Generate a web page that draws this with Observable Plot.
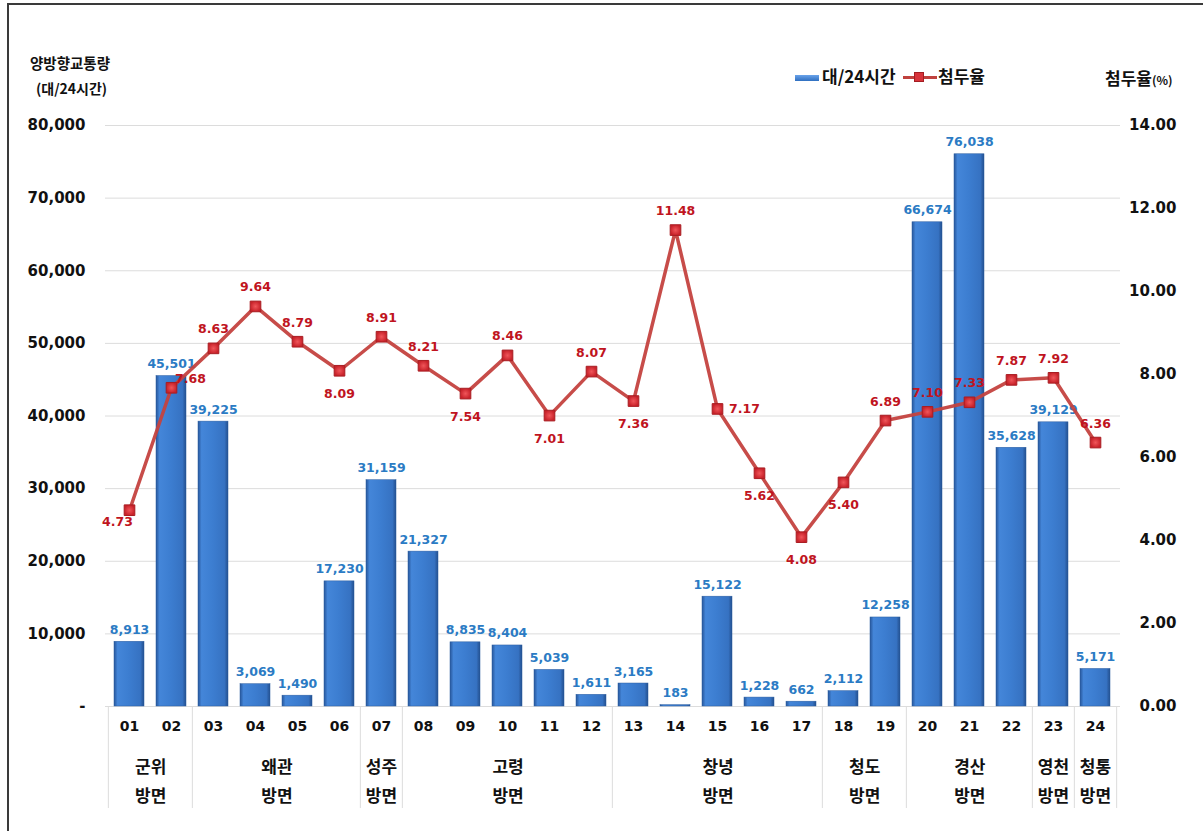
<!DOCTYPE html>
<html><head><meta charset="utf-8">
<script src="https://cdn.jsdelivr.net/npm/d3@7"></script>
<script src="https://cdn.jsdelivr.net/npm/@observablehq/plot@0.6"></script>
<style>
body{margin:0;background:#fff;}
#wrap{position:relative;width:1203px;height:831px;overflow:hidden;font-family:"Noto Sans CJK KR","DejaVu Sans",sans-serif;font-weight:bold;}
#frame{position:absolute;left:7px;top:3px;width:1300px;height:900px;border-left:2px solid #3a3a3a;border-top:2px solid #3a3a3a;}
.t{position:absolute;white-space:nowrap;line-height:1;color:#111;}
#chart{position:absolute;left:0;top:0;}
</style></head>
<body>
<div id="wrap">
  <div id="frame"></div>
  <div id="chart"></div>
  <div class="t" style="left:30px;top:56px;font-size:14.5px;">양방향교통량</div>
  <div class="t" style="left:36px;top:81px;font-size:14px;">(대/24시간)</div>
  <div class="t" style="left:795px;top:75px;width:24px;height:6px;background:linear-gradient(#6aa3ea,#2f6fc0);"></div>
  <div class="t" style="left:822px;top:67px;font-size:17px;">대/24시간</div>
  <div class="t" style="left:903px;top:76px;width:34px;height:3px;background:#c0413e;"></div>
  <div class="t" style="left:914px;top:72px;width:10px;height:10px;background:#d8323a;box-sizing:border-box;border:1px solid #a31d22;"></div>
  <div class="t" style="left:938px;top:67px;font-size:17px;">첨두율</div>
  <div class="t" style="left:1105px;top:69px;font-size:17px;">첨두율<span style="font-size:12px;">(%)</span></div>
</div>
<script>
const categories = ["01","02","03","04","05","06","07","08","09","10","11","12","13","14","15","16","17","18","19","20","21","22","23","24"];
const traffic = [8913,45501,39225,3069,1490,17230,31159,21327,8835,8404,5039,1611,3165,183,15122,1228,662,2112,12258,66674,76038,35628,39129,5171];
const rate = [4.73,7.68,8.63,9.64,8.79,8.09,8.91,8.21,7.54,8.46,7.01,8.07,7.36,11.48,7.17,5.62,4.08,5.40,6.89,7.10,7.33,7.87,7.92,6.36];
const groupNames = ["군위","왜관","성주","고령","창녕","청도","경산","영천","청통"];
const groupSizes = [2,4,1,5,5,2,3,1,1];
const ratePlacement = ["bl","ru","a","a","a","b","a","a","b","a","b","a","b","a","r","b","b","b","a","a","a","a","a","a"];
const leftTicks = [0,10000,20000,30000,40000,50000,60000,70000,80000];
const rightTicks = [0,2,4,6,8,10,12,14];

const W = 1203, H = 831, ML = 105, MR = 83, MT = 125, MB = 125;
const yMax = 80000, rMax = 14;
const toY = r => r * yMax / rMax;
const step = (W - ML - MR) / categories.length;
const plotH = H - MT - MB;

const data = categories.map((c, i) => ({cat: c, traffic: traffic[i], rate: rate[i], ry: toY(rate[i]), place: ratePlacement[i]}));

let idx = 0;
const groups = groupNames.map((g, i) => {
  const first = categories[idx];
  const n = groupSizes[i];
  idx += n;
  return {name: g, first, n};
});
const boundaries = groups.map(g => g.first);

const numFont = "DejaVu Sans";
const korFont = "Noto Sans CJK KR";
const blue = "#2b7bc4", red = "#c0141e";

const placeOpts = {
  a: {dx: 0, dy: -19},
  b: {dx: 0, dy: 23},
  bl: {dx: -12, dy: 12},
  r: {dx: 27, dy: 0},
  ru: {dx: 19, dy: -9}
};

const marks = [
  Plot.ruleY(leftTicks, {y: d => d, stroke: "#dcdcdc", strokeWidth: 1}),
  Plot.ruleX(boundaries, {x: d => d, dx: -step/2, insetTop: plotH, insetBottom: -102, stroke: "#dcdcdc"}),
  Plot.ruleX([categories[categories.length-1]], {x: d => d, dx: step/2, insetTop: plotH, insetBottom: -102, stroke: "#dcdcdc"}),
  Plot.barY(data, {x: "cat", y: "traffic", fill: "url(#barGrad)", stroke: "#2a5da0", strokeWidth: 0.5}),
  Plot.text(data, {x: "cat", y: "traffic", text: d => d3.format(",")(d.traffic), dy: -12, fill: blue, fontSize: 12.5, fontWeight: "bold", fontFamily: numFont}),
  Plot.line(data, {x: "cat", y: "ry", stroke: "#c4423f", strokeWidth: 3.5, strokeOpacity: 0.95}),
  Plot.dot(data, {x: "cat", y: "ry", symbol: "square", r: 6, fill: "url(#dotGrad)", stroke: "#a81d22", strokeWidth: 1}),
  ...Object.entries(placeOpts).map(([k, o]) =>
    Plot.text(data.filter(d => d.place === k), {x: "cat", y: "ry", text: d => d.rate.toFixed(2), dx: o.dx, dy: o.dy, fill: red, fontSize: 12.5, fontWeight: "bold", fontFamily: numFont})
  ),
  Plot.axisY({ticks: leftTicks, anchor: "left", label: null, tickSize: 0, tickPadding: 20, tickFormat: d => d === 0 ? "-" : d3.format(",")(d), fontSize: 15, fontWeight: "bold", fontFamily: numFont, fill: "#111"}),
  Plot.axisY({ticks: rightTicks.map(toY), anchor: "right", label: null, tickSize: 0, tickPadding: 56, textAnchor: "end", tickFormat: d => (d * rMax / yMax).toFixed(2), fontSize: 15, fontWeight: "bold", fontFamily: numFont, fill: "#111"}),
  Plot.axisX({label: null, tickSize: 0, tickPadding: 15, fontSize: 14, fontWeight: "bold", fontFamily: numFont, fill: "#111"}),
  ...groups.map(g => Plot.text([g], {x: d => d.first, text: d => d.name + "\n방면", frameAnchor: "bottom", dx: (g.n - 1) / 2 * step, dy: 72, lineAnchor: "middle", lineHeight: 1.65, fontSize: 17, fontWeight: "bold", fontFamily: korFont, fill: "#111"}))
];

const svg = Plot.plot({
  width: W, height: H,
  marginLeft: ML, marginRight: MR, marginTop: MT, marginBottom: MB,
  x: {type: "band", domain: categories, paddingInner: 0.28, paddingOuter: 0.14, axis: null},
  y: {domain: [0, yMax], axis: null},
  style: {background: "transparent", overflow: "visible", fontFamily: numFont},
  marks
});

const defs = d3.select(svg).insert("defs", ":first-child");
const g1 = defs.append("linearGradient").attr("id", "barGrad").attr("x1", 0).attr("x2", 1).attr("y1", 0).attr("y2", 0);
[[0,"#27569a"],[0.12,"#4486d9"],[0.5,"#3c7dd0"],[0.88,"#3672c2"],[1,"#234f8e"]].forEach(([o,c]) => g1.append("stop").attr("offset", o).attr("stop-color", c));
const g2 = defs.append("radialGradient").attr("id", "dotGrad");
[[0,"#f0565a"],[1,"#c8222a"]].forEach(([o,c]) => g2.append("stop").attr("offset", o).attr("stop-color", c));

document.getElementById("chart").appendChild(svg);
</script>
</body></html>
